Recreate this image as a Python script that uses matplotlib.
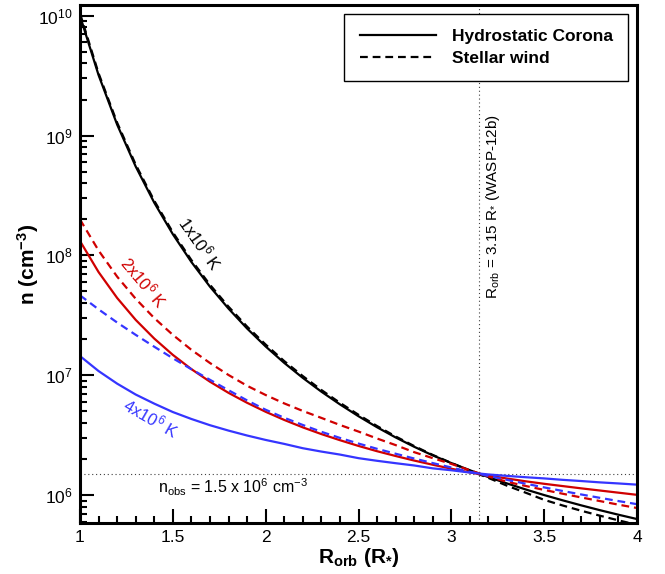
import numpy as np
import matplotlib
matplotlib.use('Agg')
import matplotlib.pyplot as plt
from matplotlib.ticker import FixedLocator, FixedFormatter, MultipleLocator, LogLocator, NullFormatter

plt.rcParams['font.family'] = ['Liberation Sans', 'DejaVu Sans']
plt.rcParams['mathtext.fontset'] = 'custom'
plt.rcParams['mathtext.rm'] = 'Liberation Sans'
plt.rcParams['mathtext.it'] = 'Liberation Sans:italic'
plt.rcParams['mathtext.bf'] = 'Liberation Sans:bold'

# orbital distance (stellar radii), 1.0 ... 4.0
r_orb = [1.0, 1.1, 1.2, 1.3, 1.4, 1.5, 1.6, 1.7, 1.8, 1.9,
         2.0, 2.1, 2.2, 2.3, 2.4, 2.5, 2.6, 2.7, 2.8, 2.9,
         3.0, 3.1, 3.2, 3.3, 3.4, 3.5, 3.6, 3.7, 3.8, 3.9, 4.0]

# log10 of density (cm^-3)
logn_hydro_1 = [10.00, 9.505, 9.092, 8.742, 8.440, 8.177, 7.945, 7.739, 7.556, 7.390,
                7.240, 7.103, 6.978, 6.863, 6.757, 6.658, 6.566, 6.481, 6.403, 6.331,
                6.267, 6.207, 6.150, 6.097, 6.047, 6.000, 5.956, 5.914, 5.874, 5.836, 5.800]
logn_wind_1 = [10.02, 9.520, 9.108, 8.758, 8.456, 8.193, 7.961, 7.755, 7.572, 7.406,
               7.256, 7.118, 6.993, 6.877, 6.770, 6.670, 6.576, 6.489, 6.409, 6.335,
               6.268, 6.203, 6.143, 6.078, 6.020, 5.960, 5.913, 5.869, 5.828, 5.789, 5.752]
logn_hydro_2 = [8.120, 7.861, 7.645, 7.462, 7.306, 7.170, 7.051, 6.946, 6.853, 6.770,
                6.695, 6.627, 6.565, 6.509, 6.458, 6.410, 6.366, 6.326, 6.288, 6.253,
                6.220, 6.189, 6.163, 6.138, 6.115, 6.094, 6.075, 6.056, 6.038, 6.020, 6.002]
logn_wind_2 = [8.300, 8.041, 7.823, 7.638, 7.477, 7.337, 7.212, 7.102, 7.002, 6.912,
               6.835, 6.765, 6.702, 6.644, 6.585, 6.530, 6.472, 6.417, 6.358, 6.308,
               6.260, 6.207, 6.155, 6.111, 6.076, 6.043, 6.011, 5.980, 5.950, 5.920, 5.892]
logn_hydro_4 = [7.160, 7.035, 6.930, 6.839, 6.763, 6.693, 6.635, 6.583, 6.538, 6.497,
                6.460, 6.427, 6.391, 6.363, 6.338, 6.308, 6.286, 6.266, 6.247, 6.223,
                6.207, 6.188, 6.172, 6.160, 6.149, 6.139, 6.127, 6.117, 6.106, 6.097, 6.087]
logn_wind_4 = [7.667, 7.550, 7.440, 7.337, 7.238, 7.142, 7.050, 6.962, 6.875, 6.790,
               6.712, 6.645, 6.585, 6.528, 6.477, 6.430, 6.386, 6.345, 6.305, 6.267,
               6.230, 6.194, 6.160, 6.127, 6.095, 6.064, 6.034, 6.005, 5.977, 5.950, 5.924]

n_obs = 1.5e6
r_wasp = 3.15

x_ticks = [1, 1.5, 2, 2.5, 3, 3.5, 4]
x_tick_labels = ['1', '1.5', '2', '2.5', '3', '3.5', '4']

red = '#d00000'
blue = '#3535ff'
dash = (0, (3.5, 2.2))

fig = plt.figure(figsize=(6.65, 5.74), dpi=100)
ax = fig.add_axes([0.1203, 0.0889, 0.8376, 0.9024])

ax.plot(r_orb, 10**np.array(logn_hydro_1), color='black', lw=1.6, label='Hydrostatic Corona')
ax.plot(r_orb, 10**np.array(logn_wind_1), color='black', lw=1.6, ls=dash, label='Stellar wind')
ax.plot(r_orb, 10**np.array(logn_hydro_2), color=red, lw=1.6)
ax.plot(r_orb, 10**np.array(logn_wind_2), color=red, lw=1.6, ls=dash)
ax.plot(r_orb, 10**np.array(logn_hydro_4), color=blue, lw=1.6)
ax.plot(r_orb, 10**np.array(logn_wind_4), color=blue, lw=1.6, ls=dash)

ax.axhline(n_obs, color='0.25', lw=0.8, ls=(0, (1, 2.5)), zorder=0)
ax.axvline(r_wasp, color='0.25', lw=0.8, ls=(0, (1, 2.5)), zorder=0)

ax.set_yscale('log')
ax.set_xlim(1, 4)
ax.set_ylim(5.85e5, 1.23e10)

ax.xaxis.set_major_locator(FixedLocator(x_ticks))
ax.xaxis.set_major_formatter(FixedFormatter(x_tick_labels))
ax.xaxis.set_minor_locator(MultipleLocator(0.1))
ax.yaxis.set_major_locator(LogLocator(base=10, numticks=20))
ax.yaxis.set_minor_locator(LogLocator(base=10, subs=np.arange(2, 10), numticks=20))
ax.yaxis.set_minor_formatter(NullFormatter())

ax.tick_params(which='both', direction='in', top=False, right=False, labelsize=12.5, width=1.5)
ax.tick_params(which='major', length=10, pad=5)
ax.tick_params(which='minor', length=5)
for s in ax.spines.values():
    s.set_linewidth(2.2)

ax.set_xlabel(r'$\mathbf{R_{orb}}$ $\mathbf{(R_{*})}$', fontsize=15, labelpad=1)
ax.set_ylabel(r'n (cm$^{\mathbf{-3}}$)', fontsize=15, fontweight='bold', labelpad=-2)

ax.text(1.646, 1.26e8, r'1x10$^6$ K', rotation=-55, color='black', fontsize=12,
        ha='center', va='center')
ax.text(1.345, 5.96e7, r'2x10$^6$ K', rotation=-50, color=red, fontsize=12,
        ha='center', va='center')
ax.text(1.382, 4.4e6, r'4x10$^6$ K', rotation=-30, color=blue, fontsize=12,
        ha='center', va='center')
ax.text(1.824, 1.17e6, r'n$_{\rm obs}$ = 1.5 x 10$^6$ cm$^{-3}$', fontsize=11.5,
        ha='center', va='center')
ax.text(3.226, 2.58e8, r'R$_{\rm orb}$ = 3.15 R$_{*}$ (WASP-12b)', rotation=90, fontsize=11,
        ha='center', va='center')

leg = ax.legend(loc='upper right', handlelength=4.4, handletextpad=0.9, borderpad=0.9,
                labelspacing=0.35, fancybox=False, framealpha=1, edgecolor='black',
                prop={'weight': 'bold', 'size': 12.5})
leg.get_frame().set_linewidth(1.0)

fig.savefig('out.png', dpi=100)
